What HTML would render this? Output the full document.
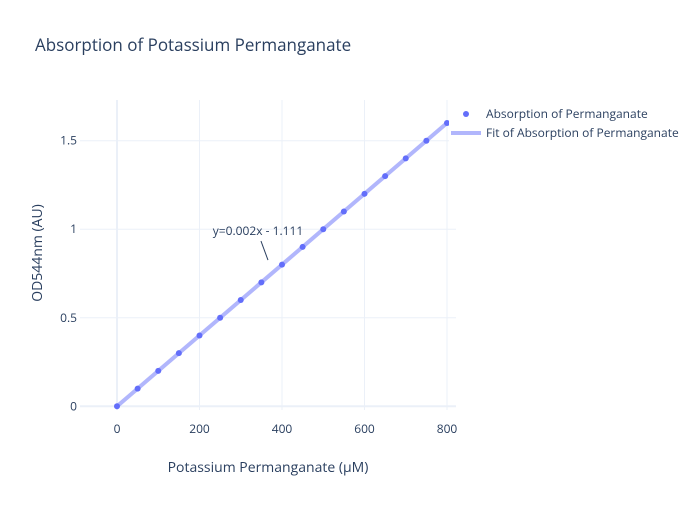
<!DOCTYPE html>
<html><head><meta charset="utf-8"><style>
body{margin:0;background:#fff;font-family:"Open Sans","Liberation Sans",sans-serif;}
svg text{font-family:"Open Sans","Liberation Sans",sans-serif;}
</style></head><body>
<svg width="700" height="500" xmlns="http://www.w3.org/2000/svg">
<rect width="700" height="500" fill="#fff"/>
<text x="35" y="51" font-size="17" fill="#2a3f5f">Absorption of Potassium Permanganate</text>
<g id="grid"></g>
<g id="marks"></g>
<g id="ticks"></g>
<text x="268" y="472" font-size="14" fill="#2a3f5f" text-anchor="middle">Potassium Permanganate (μM)</text>
<text transform="translate(42,253) rotate(-90)" font-size="14" fill="#2a3f5f" text-anchor="middle">OD544nm (AU)</text>
<g id="annot"></g>
<g>
<rect x="449" y="100" width="251" height="50" fill="#fff"/>
<g>
<circle cx="466" cy="114" r="3" fill="#636efa"/>
<text x="486" y="118" font-size="12" fill="#2a3f5f">Absorption of  Permanganate</text></g>
<g>
<line x1="451" y1="133" x2="481" y2="133" stroke="#636efa" stroke-opacity="0.5" stroke-width="4"/>
<text x="486" y="137" font-size="12" fill="#2a3f5f">Fit of Absorption of  Permanganate</text></g>
</g>
</svg>
<script>
const xValues=[0,50,100,150,200,250,300,350,400,450,500,550,600,650,700,750,800];
const yValues=[0,0.1,0.2,0.3,0.4,0.5,0.6,0.7,0.8,0.9,1.0,1.1,1.2,1.3,1.4,1.5,1.6];
const fitX=[0,800];
const fitY=[0,1.6];
const xTicks=[0,200,400,600,800];
const yTicks=[0,0.5,1,1.5];
const yTickLabels=["0","0.5","1","1.5"];
const annotation={x:366,y:0.826,text:"y=0.002x - 1.111"};
const X=v=>117+v*0.41250;
const Y=v=>406.3-v*177.07;
const NS="http://www.w3.org/2000/svg";
function mk(p,t,a){const e=document.createElementNS(NS,t);for(const k in a)e.setAttribute(k,a[k]);p.appendChild(e);return e;}
const grid=document.getElementById('grid'),marks=document.getElementById('marks'),ticks=document.getElementById('ticks'),annot=document.getElementById('annot');
xTicks.forEach(t=>{
 const l=mk(grid,'line',{x1:X(t),x2:X(t),y1:100,y2:410,stroke:'#ebf0f8','stroke-width':t===0?2:1});
 
 
 const tx=mk(ticks,'text',{x:X(t),y:433,'font-size':12,fill:'#2a3f5f','text-anchor':'middle'});tx.textContent=t;
 
 
});
yTicks.forEach((t,i)=>{
 const l=mk(grid,'line',{x1:80,x2:456,y1:Y(t),y2:Y(t),stroke:'#ebf0f8','stroke-width':t===0?2:1});
 
 
 const tx=mk(ticks,'text',{x:77,y:Y(t)+4,'font-size':12,fill:'#2a3f5f','text-anchor':'end'});tx.textContent=yTickLabels[i];
 
 
});
const fl=mk(marks,'polyline',{points:fitX.map((x,i)=>X(x)+','+Y(fitY[i])).join(' '),stroke:'#636efa','stroke-opacity':0.5,'stroke-width':4,fill:'none'});


xValues.forEach((x,i)=>{
 const c=mk(marks,'circle',{cx:X(x),cy:Y(yValues[i]),r:3,fill:'#636efa'});
 
 
});
const ax=X(annotation.x),ay=Y(annotation.y);
const al=mk(annot,'line',{x1:ax,y1:ay,x2:ax-7,y2:ay-19,stroke:'#2a3f5f','stroke-width':1});


const at=mk(annot,'text',{x:ax-10,y:ay-25,'font-size':12,fill:'#2a3f5f','text-anchor':'middle'});at.textContent=annotation.text;


</script>
</body></html>
